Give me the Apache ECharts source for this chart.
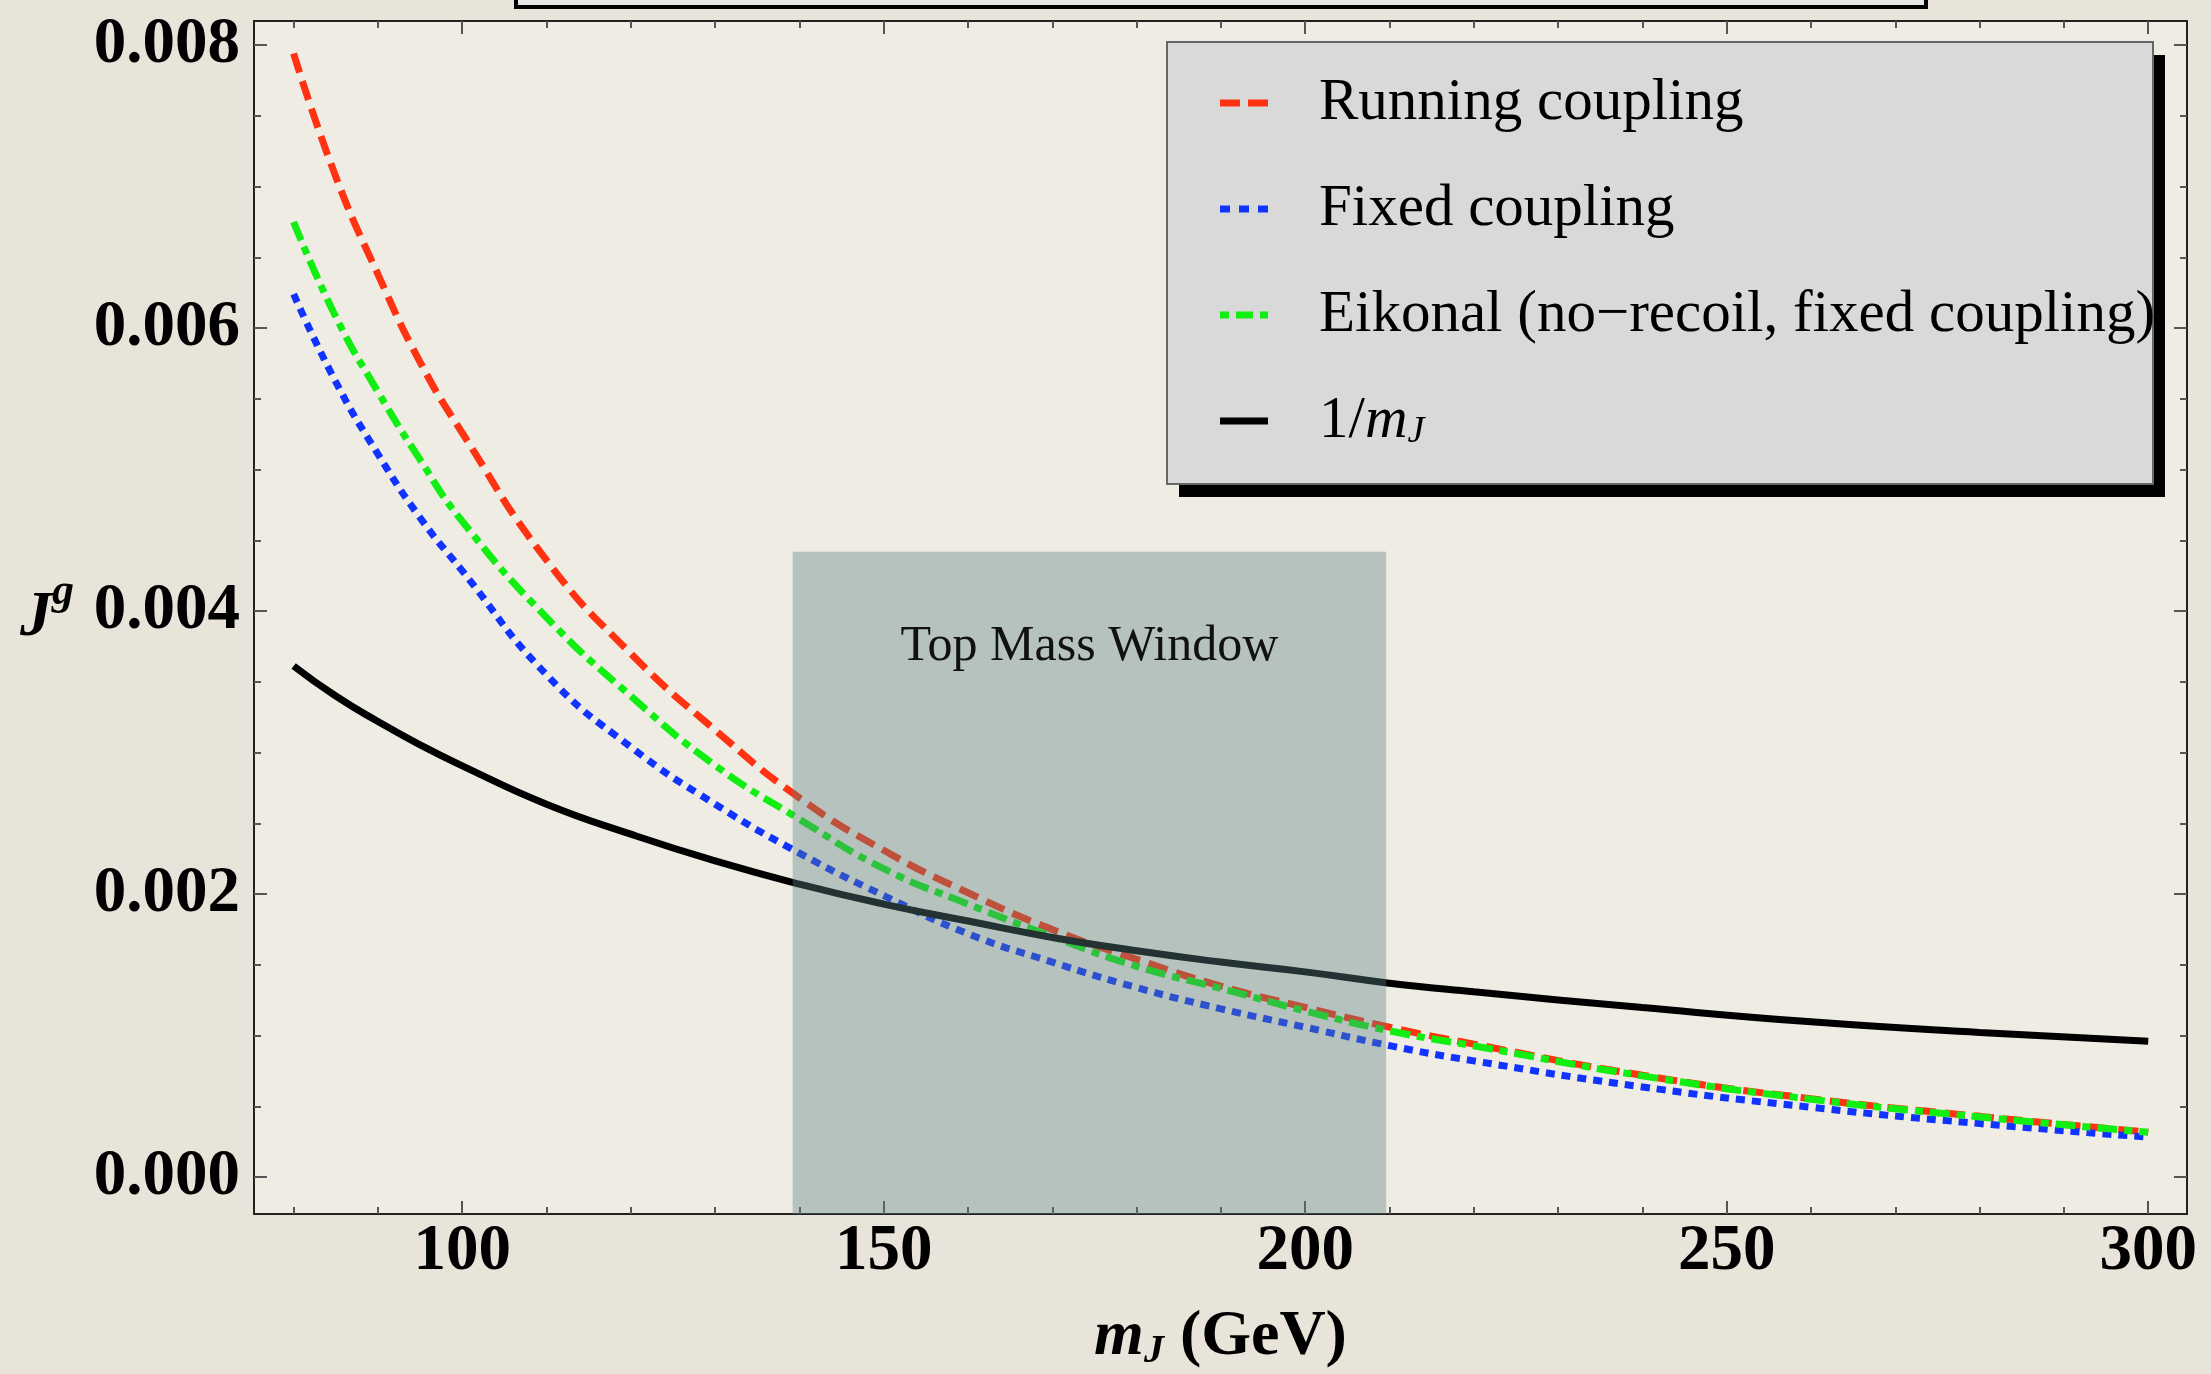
<!DOCTYPE html>
<html>
<head>
<meta charset="utf-8">
<title>J^g vs m_J</title>
<script src="https://cdn.jsdelivr.net/npm/echarts@6/dist/echarts.min.js"></script>
<style>
  html, body { margin: 0; padding: 0; background: #e8e4d9; }
  #chart { width: 2211px; height: 1374px; }
</style>
</head>
<body>
<div id="chart"></div>
<script>
  // jet mass (GeV) at which the curves were read
  const mJ = [80, 85, 90, 95, 100, 110, 120, 130, 140, 150, 160, 170, 180, 190, 200, 210, 220, 240, 260, 280, 300];
  const running = [0.00794, 0.00707, 0.00638, 0.00576, 0.00526, 0.00436, 0.00370, 0.00316, 0.00268, 0.00231, 0.00201, 0.00175, 0.00154, 0.00135, 0.00120, 0.00106, 0.00094, 0.00072, 0.000555, 0.00043, 0.000318];
  const fixed = [0.00624, 0.00562, 0.00511, 0.00466, 0.004285, 0.00355, 0.00304, 0.002636, 0.00229, 0.00199, 0.00172, 0.00152, 0.00134, 0.00119, 0.00106, 0.00093, 0.000822, 0.000638, 0.000494, 0.000379, 0.000283];
  const eikonal = [0.00675, 0.00608, 0.00555, 0.00507, 0.004635, 0.003955, 0.00340, 0.00291, 0.00253, 0.00218, 0.00193, 0.00170, 0.00149, 0.001334, 0.001175, 0.001034, 0.000928, 0.000716, 0.000551, 0.000426, 0.000318];
  const inverse = [0.003613, 0.00340, 0.00322, 0.003055, 0.002907, 0.002636, 0.002424, 0.002235, 0.002071, 0.00193, 0.00181, 0.001694, 0.00160, 0.00152, 0.001451, 0.001371, 0.00131, 0.001199, 0.001098, 0.001023, 0.000961];

  const seriesNames = ['Running coupling', 'Fixed coupling', 'Eikonal (no\u2212recoil, fixed coupling)', '1/mJ'];

  // tick positions
  const xMajor = [100, 150, 200, 250, 300];
  const xMinor = [80, 90, 110, 120, 130, 140, 160, 170, 180, 190, 210, 220, 230, 240, 260, 270, 280, 290];
  const yMajor = [0, 0.002, 0.004, 0.006, 0.008];
  const yMinor = [0.0005, 0.001, 0.0015, 0.0025, 0.003, 0.0035, 0.0045, 0.005, 0.0055, 0.0065, 0.007, 0.0075];

  // shaded top mass window
  const windowX = [139.2, 209.6];
  const windowTop = 0.00442;

  const serif = "'Liberation Serif', 'Times New Roman', serif";
  const xMin = 75.3, xMax = 304.6;
  const yMin = -0.00026, yMax = 0.00817;

  // legend swatches drawn as little dash patterns
  const legendIcons = [
    'path://M0,0H20V7H0Z M28,0H48V7H28Z',
    'path://M0,0H10V7H0Z M19,0H29V7H19Z M38,0H48V7H38Z',
    'path://M0,0H9V7H0Z M16,0H33V7H16Z M40,0H48V7H40Z',
    'path://M0,0H48V7H0Z'
  ];

  const pairs = ys => mJ.map((m, i) => [m, ys[i]]);

  function xAxisDef(grid, pos, ticks, len, showLine, showLabel) {
    return {
      type: 'value', gridIndex: grid, position: pos, min: xMin, max: xMax,
      axisLine: { show: showLine, onZero: false, lineStyle: { color: '#222', width: 2 } },
      axisTick: { show: true, inside: true, length: len, customValues: ticks, lineStyle: { color: '#555', width: 2 } },
      axisLabel: {
        show: showLabel, customValues: ticks, margin: 6,
        fontSize: 65, fontWeight: 'bold', fontFamily: serif, color: '#000'
      },
      splitLine: { show: false }
    };
  }

  function yAxisDef(grid, pos, ticks, len, showLine, showLabel) {
    return {
      type: 'value', gridIndex: grid, position: pos, min: yMin, max: yMax,
      axisLine: { show: showLine, onZero: false, lineStyle: { color: '#222', width: 2 } },
      axisTick: { show: true, inside: true, length: len, customValues: ticks, lineStyle: { color: '#555', width: 2 } },
      axisLabel: {
        show: showLabel, customValues: ticks, margin: 14,
        fontSize: 65, fontWeight: 'bold', fontFamily: serif, color: '#000',
        formatter: v => v.toFixed(3)
      },
      splitLine: { show: false }
    };
  }

  const xMain = xAxisDef(0, 'bottom', xMajor, 13, true, true);
  xMain.name = '{m|m}{s|J}{n| (GeV)}';
  xMain.nameLocation = 'middle';
  xMain.nameGap = 88;
  xMain.nameTextStyle = {
    fontSize: 64, fontWeight: 'bold', fontFamily: serif, color: '#000',
    rich: {
      m: { fontSize: 64, fontWeight: 'bold', fontStyle: 'italic', lineHeight: 70 },
      s: { fontSize: 40, fontWeight: 'bold', fontStyle: 'italic', lineHeight: 36, verticalAlign: 'bottom' },
      n: { fontSize: 64, fontWeight: 'bold', lineHeight: 70 }
    }
  };

  const yMain = yAxisDef(0, 'left', yMajor, 13, true, true);
  yMain.name = '{J|J}{g|g}';
  yMain.nameLocation = 'middle';
  yMain.nameRotate = 0;
  yMain.nameGap = 180;
  yMain.nameTextStyle = {
    fontSize: 64, fontWeight: 'bold', fontStyle: 'italic', fontFamily: serif, color: '#000',
    padding: [0, 0, 14, 0],
    rich: {
      J: { fontSize: 64, fontWeight: 'bold', fontStyle: 'italic', lineHeight: 80, verticalAlign: 'bottom' },
      g: { fontSize: 44, fontWeight: 'bold', fontStyle: 'italic', lineHeight: 44, verticalAlign: 'top' }
    }
  };

  const chart = echarts.init(document.getElementById('chart'));
  chart.setOption({
    animation: false,
    backgroundColor: '#e8e4d9',
    grid: [
      { left: 254, top: 21, width: 1933, height: 1193, show: true, backgroundColor: '#efece3', borderWidth: 0, outerBoundsMode: 'none' },
      { left: 254, top: 21, width: 1933, height: 1193, show: false, outerBoundsMode: 'none' }
    ],
    xAxis: [
      xMain,
      xAxisDef(0, 'top', xMajor, 13, true, false),
      xAxisDef(1, 'bottom', xMinor, 7, false, false),
      xAxisDef(1, 'top', xMinor, 7, false, false)
    ],
    yAxis: [
      yMain,
      yAxisDef(0, 'right', yMajor, 13, true, false),
      yAxisDef(1, 'left', yMinor, 7, false, false),
      yAxisDef(1, 'right', yMinor, 7, false, false)
    ],
    legend: {
      orient: 'vertical', left: 1167, top: 42,
      padding: [31, 0, 0, 53], itemGap: 46, itemWidth: 48, itemHeight: 60,
      selectedMode: false,
      data: seriesNames.map((name, i) => ({ name: name, icon: legendIcons[i] })),
      formatter: name => name === '1/mJ' ? '1/{i|m}{s|J}' : name,
      textStyle: {
        fontSize: 59, fontFamily: serif, color: '#000', lineHeight: 60, padding: [0, 0, 0, 46],
        rich: {
          i: { fontSize: 59, fontStyle: 'italic', lineHeight: 60 },
          s: { fontSize: 38, fontStyle: 'italic', lineHeight: 26, verticalAlign: 'bottom' }
        }
      }
    },
    graphic: [
      { type: 'rect', silent: true, z: 3, shape: { x: 1179, y: 55, width: 986, height: 442 }, style: { fill: '#000' } },
      { type: 'rect', silent: true, z: 3.5, shape: { x: 1167, y: 42, width: 986, height: 442 }, style: { fill: '#d9d9d9', stroke: '#666', lineWidth: 2 } },
      { type: 'rect', silent: true, z: 3, shape: { x: 516, y: -20, width: 1410, height: 27 }, style: { fill: '#e6e6e6', stroke: '#000', lineWidth: 4 } }
    ],
    series: [
      {
        name: seriesNames[0], type: 'line', data: pairs(running), symbol: 'none', smooth: true, silent: true,
        color: '#ff3311', lineStyle: { color: '#ff3311', width: 7, type: [20, 9] }
      },
      {
        name: seriesNames[1], type: 'line', data: pairs(fixed), symbol: 'none', smooth: true, silent: true,
        color: '#1133ff', lineStyle: { color: '#1133ff', width: 7, type: [9, 7] }
      },
      {
        name: seriesNames[2], type: 'line', data: pairs(eikonal), symbol: 'none', smooth: true, silent: true,
        color: '#11ee11', lineStyle: { color: '#11ee11', width: 7, type: [20, 7, 8, 7] }
      },
      {
        name: seriesNames[3], type: 'line', data: pairs(inverse), symbol: 'none', smooth: true, silent: true,
        color: '#000', lineStyle: { color: '#000', width: 7 },
        markArea: {
          silent: true, z: 10,
          itemStyle: { color: 'rgba(90,128,128,0.39)' },
          label: {
            show: true, position: 'insideTop', distance: 70,
            fontSize: 50, fontFamily: serif, color: '#111'
          },
          data: [[
            { name: 'Top Mass Window', xAxis: windowX[0], yAxis: yMin },
            { xAxis: windowX[1], yAxis: windowTop }
          ]]
        }
      }
    ]
  });
</script>
</body>
</html>
